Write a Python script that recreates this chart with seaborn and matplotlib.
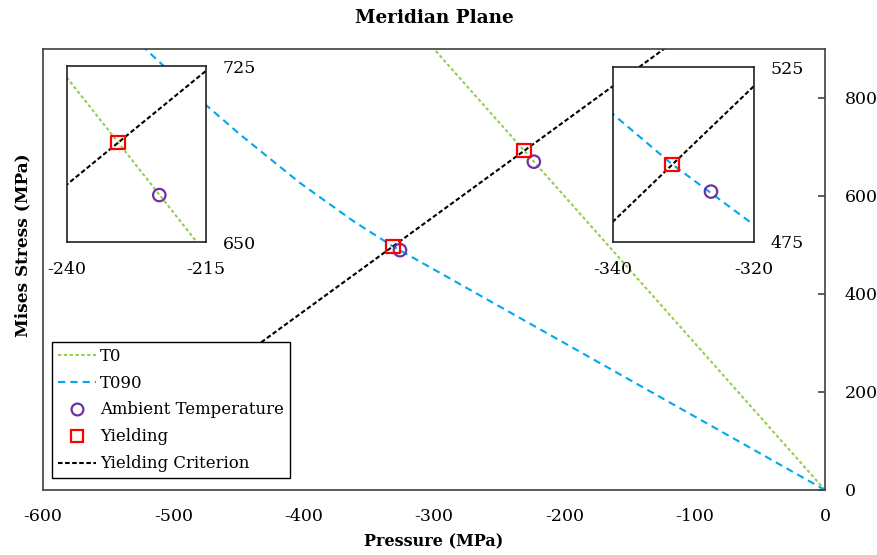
import numpy as np
import pandas as pd
import matplotlib
matplotlib.use("Agg")
import matplotlib.pyplot as plt
from matplotlib.lines import Line2D
import seaborn as sns

# Loading paths in the meridian plane (pressure p vs. Mises stress q, MPa)
t0_p = [0.0, -310.0]
t0_q = [0.0, 930.0]

t090_p = [0.0, -100.0, -200.0, -300.0, -331.6, -362.0, -403.0, -449.0, -474.0, -519.0, -545.0]
t090_q = [0.0, 150.0, 300.0, 450.0, 497.2, 549.0, 627.0, 726.0, 783.5, 894.0, 960.0]

crit_p = [-560.0, -100.0]
crit_q = [54.7, 945.7]

ambient_p = [-223.4, -326.1]
ambient_q = [670.0, 489.4]

yield_p = [-230.8, -331.6]
yield_q = [692.4, 497.2]

x_ticks = [-600, -500, -400, -300, -200, -100, 0]
y_ticks = [0, 200, 400, 600, 800]

GREEN = "#92D050"
BLUE = "#00A8EC"
PURPLE = "#7030A0"
RED = "#FF0000"
SPINE = "#404040"

sns.set_theme(style="white")
plt.rcParams["font.family"] = ["DejaVu Serif"]
plt.rcParams["axes.unicode_minus"] = False
plt.rcParams["text.color"] = "black"
plt.rcParams["axes.labelcolor"] = "black"
plt.rcParams["xtick.color"] = "black"
plt.rcParams["ytick.color"] = "black"

t0 = pd.DataFrame({"p": t0_p, "q": t0_q})
t090 = pd.DataFrame({"p": t090_p, "q": t090_q})
crit = pd.DataFrame({"p": crit_p, "q": crit_q})
amb = pd.DataFrame({"p": ambient_p, "q": ambient_q})
yld = pd.DataFrame({"p": yield_p, "q": yield_q})

LW = 1.5
DASH_T0 = (0, (1.6, 1.2))
DASH_T090 = (0, (3.5, 2.4))
DASH_CRIT = (0, (2.2, 1.2))


def draw_paths(ax):
    sns.lineplot(data=t0, x="p", y="q", ax=ax, color=GREEN, linewidth=LW,
                 linestyle=DASH_T0, sort=False, estimator=None)
    sns.lineplot(data=t090, x="p", y="q", ax=ax, color=BLUE, linewidth=LW,
                 linestyle=DASH_T090, sort=False, estimator=None)
    sns.lineplot(data=crit, x="p", y="q", ax=ax, color="black", linewidth=LW,
                 linestyle=DASH_CRIT, sort=False, estimator=None)
    sns.scatterplot(data=amb, x="p", y="q", ax=ax, marker="o", s=80,
                    facecolors="none", edgecolors=PURPLE, linewidths=1.6, zorder=5)
    sns.scatterplot(data=yld, x="p", y="q", ax=ax, marker="s", s=95,
                    facecolors="none", edgecolors=RED, linewidths=1.6, zorder=6)


fig = plt.figure(figsize=(8.77, 5.55), dpi=100)
ax = fig.add_axes([43 / 877, 1 - 490 / 555, 782 / 877, 441 / 555])
draw_paths(ax)

ax.set_xlim(-600, 0)
ax.set_ylim(0, 900)
ax.set_xticks(x_ticks)
ax.set_yticks(y_ticks)
ax.yaxis.tick_right()
ax.yaxis.set_label_position("left")
ax.tick_params(axis="x", direction="in", length=5, width=1.2, color=SPINE,
               pad=13, labelsize=12.5, labelcolor="black")
ax.tick_params(axis="y", direction="in", length=5, width=1.2, color=SPINE,
               pad=14, labelsize=12.5, labelcolor="black")
for s in ax.spines.values():
    s.set_color(SPINE)
    s.set_linewidth(1.2)
ax.set_xlabel("Pressure (MPa)", fontsize=11.5, fontweight="bold", labelpad=6)
ax.set_ylabel("Mises Stress (MPa)", fontsize=12.2, fontweight="bold")
ax.yaxis.set_label_coords(-0.0155, 0.556)
ax.set_title("Meridian Plane", fontsize=13.3, fontweight="bold", pad=19)

handles = [
    Line2D([], [], color=GREEN, linewidth=LW, linestyle=DASH_T0),
    Line2D([], [], color=BLUE, linewidth=LW, linestyle=DASH_T090),
    Line2D([], [], color=PURPLE, marker="o", markersize=8.5, markerfacecolor="none",
           markeredgewidth=1.6, linestyle="none"),
    Line2D([], [], color=RED, marker="s", markersize=8.5, markerfacecolor="none",
           markeredgewidth=1.6, linestyle="none"),
    Line2D([], [], color="black", linewidth=LW, linestyle=DASH_CRIT),
]
labels = ["T0", "T090", "Ambient Temperature", "Yielding", "Yielding Criterion"]
leg = ax.legend(handles, labels, loc="lower left", bbox_to_anchor=(0.0115, 0.027),
                frameon=True, fancybox=False, framealpha=1, edgecolor="black",
                fontsize=11.9, handlelength=2.3, handletextpad=0.25,
                labelspacing=0.6, borderpad=0.35, borderaxespad=0)
leg.get_frame().set_linewidth(1.0)


def make_inset(rect, xlim, ylim):
    ins = fig.add_axes(rect)
    ins.set_facecolor("white")
    draw_paths(ins)
    ins.set_xlim(*xlim)
    ins.set_ylim(*ylim)
    ins.set_xticks(list(xlim))
    ins.set_yticks(list(ylim))
    ins.yaxis.tick_right()
    ins.tick_params(axis="x", length=0, pad=14, labelsize=12.5)
    ins.tick_params(axis="y", length=0, pad=12, labelsize=12.5)
    ins.set_xlabel("")
    ins.set_ylabel("")
    for s in ins.spines.values():
        s.set_color("#222222")
        s.set_linewidth(1.2)
    return ins


make_inset([67 / 877, 1 - 242 / 555, 139 / 877, 176 / 555], (-240, -215), (650, 725))
make_inset([613 / 877, 1 - 242 / 555, 141 / 877, 175 / 555], (-340, -320), (475, 525))

fig.savefig("out.png", dpi=100)
